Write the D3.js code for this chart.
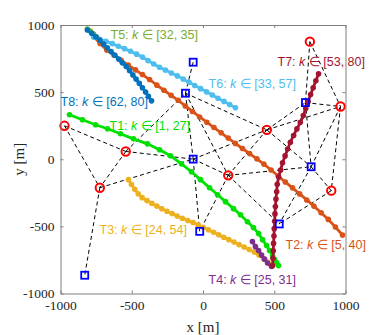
<!DOCTYPE html>
<html>
<head>
<meta charset="utf-8">
<script src="https://cdn.jsdelivr.net/npm/d3@7/dist/d3.min.js"></script>
<style>
body { margin: 0; background: #fff; }
</style>
</head>
<body>
<div id="container"></div>
<script>
// trajectory points, metres
let t1X = [-937,-846,-754,-670,-579,-488,-390,-305,-228,-151,-81,-18,46,102,158,214,263,312,354,390,418,446,467,488,502,516,530];
let t1Y = [331,294,257,227,190,152,115,71,26,-34,-93,-152,-212,-264,-316,-368,-413,-465,-509,-554,-599,-643,-680,-718,-747,-770,-792];
let t2X = [-765,-722,-675,-625,-575,-525,-474,-425,-375,-324,-274,-224,-174,-124,-74,-24,27,77,127,177,227,277,327,378,427,478,528,578,628,678,728,778,829,879,929,979];
let t2Y = [912,862,813,776,737,702,666,631,594,552,514,476,439,397,356,315,276,236,197,158,118,80,42,3,-36,-80,-125,-170,-213,-258,-303,-349,-399,-448,-505,-565];
let t3X = [-523,-502,-479,-455,-427,-393,-359,-324,-289,-253,-217,-181,-145,-107,-70,-34,1,38,74,110,145,181,217,253,289,324,360,393,425,456,488];
let t3Y = [-152,-188,-223,-257,-286,-308,-329,-349,-369,-387,-405,-423,-440,-456,-471,-489,-507,-526,-544,-562,-581,-599,-617,-636,-654,-672,-691,-715,-741,-767,-792];
let t4X = [347,368,390,411,432,453,481];
let t4Y = [-613,-651,-680,-714,-744,-773,-799];
let t5X = [-811,-790,-768,-747];
let t5Y = [970,955,933,911];
let t6X = [-768,-724,-681,-637,-594,-551,-509,-466,-425,-386,-346,-305,-264,-222,-180,-139,-98,-58,-17,25,65,105,147,187,228];
let t6Y = [911,894,878,861,842,824,804,783,761,735,709,685,664,642,621,597,573,549,526,502,478,454,431,407,383];
let t7X = [488,491,493,495,498,500,503,505,508,512,517,521,531,545,558,576,594,613,636,659,683,704,721,738,755,773,792,811];
let t7Y = [-792,-737,-682,-627,-572,-517,-462,-407,-352,-297,-242,-187,-133,-80,-27,25,76,127,177,226,275,326,378,430,482,533,584,636];
let t8X = [-811,-781,-752,-724,-698,-672,-645,-618,-592,-566,-539,-515,-492,-470,-447,-425,-403,-383,-361];
let t8Y = [963,938,913,886,859,831,802,774,746,718,690,660,628,597,565,533,501,468,435];

let trackNames = ["T1", "T2", "T3", "T4", "T5", "T6", "T7", "T8"];
let trackRanges = ["[1, 27]", "[5, 40]", "[24, 54]", "[25, 31]", "[32, 35]", "[33, 57]", "[53, 80]", "[62, 80]"];

// red circles and blue squares
let redX = [-972,-542,-724,177,448,750,965,900];
let redY = [249,58,-212,-120,219,876,393,-234];
let blueX = [-69,-123,-69,719,759,535,-23,-830];
let blueY = [723,492,1,422,-56,-482,-537,-864];

let links = [
    ["R1","R2"], ["R1","R3"], ["R2","R3"], ["R2","B2"], ["R2","B3"], ["R3","B3"], ["R3","B8"],
    ["B1","B2"], ["B2","B3"], ["B2","R4"], ["B2","R5"], ["B3","R4"], ["B3","R5"], ["B3","B7"],
    ["R4","B7"], ["R4","B6"], ["R4","B5"], ["R4","R5"], ["R5","B4"], ["R5","R7"], ["R5","B5"],
    ["R6","B4"], ["R6","R7"], ["B4","R7"], ["B4","B5"], ["R7","B5"], ["R7","R8"], ["B5","R8"],
    ["B5","B6"], ["R8","B6"]
];

let tickValues = [-1000, -500, 0, 500, 1000];

let width = 382, height = 335;
let plotLeft = 60.5, plotRight = 345.5, plotTop = 25, plotBottom = 293.5;

let colors = ["#00e000", "#D95319", "#EDB120", "#7E2F8E", "#77AC30", "#4DBEEE", "#A2142F", "#0072BD"];

let svg = d3.select("#container").append("svg")
    .attr("width", width)
    .attr("height", height)
    .style("font-family", "'Liberation Serif', 'Times New Roman', serif");

let x = d3.scaleLinear().domain([-1000, 1000]).range([plotLeft, plotRight]);
let y = d3.scaleLinear().domain([-1000, 1000]).range([plotBottom, plotTop]);

// nodes by name
let nodes = {};
redX.forEach(function(d, i) { nodes["R" + (i + 1)] = [d, redY[i]]; });
blueX.forEach(function(d, i) { nodes["B" + (i + 1)] = [d, blueY[i]]; });

svg.append("g").selectAll("line")
    .data(links)
    .enter().append("line")
    .attr("x1", function(d) { return x(nodes[d[0]][0]); })
    .attr("y1", function(d) { return y(nodes[d[0]][1]); })
    .attr("x2", function(d) { return x(nodes[d[1]][0]); })
    .attr("y2", function(d) { return y(nodes[d[1]][1]); })
    .style("stroke", "#000")
    .style("stroke-width", 1)
    .style("stroke-dasharray", "4,3");

let tracks = [[t1X, t1Y], [t2X, t2Y], [t3X, t3Y], [t4X, t4Y], [t5X, t5Y], [t6X, t6Y], [t7X, t7Y], [t8X, t8Y]]
    .map(function(t, i) {
        return {color: colors[i], points: t[0].map(function(v, j) { return [v, t[1][j]]; })};
    });

let line = d3.line()
    .x(function(d) { return x(d[0]); })
    .y(function(d) { return y(d[1]); });

let track = svg.selectAll(".track")
    .data(tracks)
    .enter().append("g")
    .attr("class", "track");

track.append("path")
    .attr("d", function(d) { return line(d.points); })
    .style("fill", "none")
    .style("stroke", function(d) { return d.color; })
    .style("stroke-width", 2.8);

track.selectAll("circle")
    .data(function(d) { return d.points.map(function(p) { return {p: p, color: d.color}; }); })
    .enter().append("circle")
    .attr("cx", function(d) { return x(d.p[0]); })
    .attr("cy", function(d) { return y(d.p[1]); })
    .attr("r", 2.8)
    .style("fill", function(d) { return d.color; });

// markers
svg.append("g").selectAll("rect")
    .data(blueX)
    .enter().append("rect")
    .attr("x", function(d) { return x(d) - 3.5; })
    .attr("y", function(d, i) { return y(blueY[i]) - 3.5; })
    .attr("width", 7)
    .attr("height", 7)
    .style("fill", "none")
    .style("stroke", "#0000ff")
    .style("stroke-width", 1.8);

svg.append("g").selectAll("circle")
    .data(redX)
    .enter().append("circle")
    .attr("cx", function(d) { return x(d); })
    .attr("cy", function(d, i) { return y(redY[i]); })
    .attr("r", 4.2)
    .style("fill", "none")
    .style("stroke", "#ff0000")
    .style("stroke-width", 2);

// labels
let labelPos = [[-656, 249], [579, -636], [-726, -524], [39, -896], [-649, 926], [39, 561], [523, 725], [-1000, 427]];

let label = svg.append("g")
    .style("font-family", "'Liberation Sans', Arial, sans-serif")
    .style("font-size", "12.5px")
    .selectAll("text")
    .data(trackNames)
    .enter().append("text")
    .attr("x", function(d, i) { return x(labelPos[i][0]); })
    .attr("y", function(d, i) { return y(labelPos[i][1]); })
    .attr("dy", "0.35em")
    .style("fill", function(d, i) { return colors[i]; });

label.append("tspan").text(function(d) { return d + ": "; });
label.append("tspan").style("font-style", "italic").text("k");
label.append("tspan").text(function(d, i) { return " \u2208 " + trackRanges[i]; });

// axes box
let axisColor = "#7f7f7f";

let gx = svg.append("g")
    .attr("transform", "translate(0," + plotBottom + ")")
    .call(d3.axisBottom(x).tickValues(tickValues).tickSize(-3).tickSizeOuter(0).tickPadding(7)
        .tickFormat(function(d) { return d; }));
let gy = svg.append("g")
    .attr("transform", "translate(" + plotLeft + ",0)")
    .call(d3.axisLeft(y).tickValues(tickValues).tickSize(-3).tickSizeOuter(0).tickPadding(6)
        .tickFormat(function(d) { return d; }));
let gt = svg.append("g")
    .attr("transform", "translate(0," + plotTop + ")")
    .call(d3.axisTop(x).tickValues(tickValues).tickSize(-3).tickSizeOuter(0).tickFormat(""));
let gr = svg.append("g")
    .attr("transform", "translate(" + plotRight + ",0)")
    .call(d3.axisRight(y).tickValues(tickValues).tickSize(-3).tickSizeOuter(0).tickFormat(""));

[gx, gy, gt, gr].forEach(function(g) {
    g.selectAll("path, line").style("stroke", axisColor);
    g.selectAll("text")
        .style("font-family", "'Liberation Serif', 'Times New Roman', serif")
        .style("font-size", "13.5px")
        .style("fill", "#262626");
});

svg.append("text")
    .attr("x", (plotLeft + plotRight) / 2)
    .attr("y", 327)
    .attr("dy", "0.35em")
    .attr("text-anchor", "middle")
    .style("font-size", "15px")
    .style("fill", "#262626")
    .text("x [m]");

svg.append("text")
    .attr("transform", "translate(19," + (plotTop + plotBottom) / 2 + ") rotate(-90)")
    .attr("dy", "0.35em")
    .attr("text-anchor", "middle")
    .style("font-size", "15px")
    .style("fill", "#262626")
    .text("y [m]");
</script>
</body>
</html>
